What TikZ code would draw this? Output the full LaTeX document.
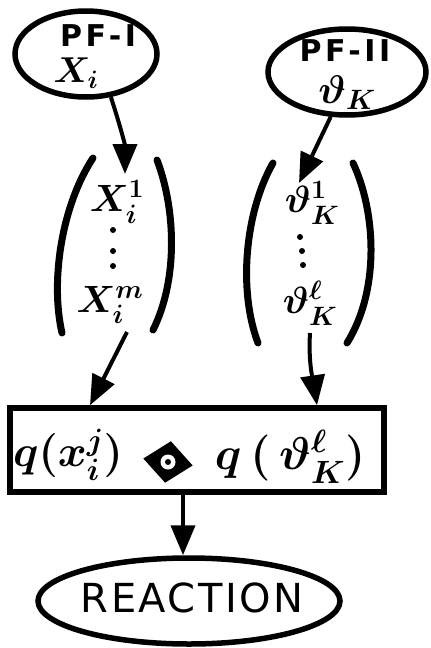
\RequirePackage{fix-cm}
\documentclass[tikz,border=0pt]{standalone}
\usepackage{graphicx}
\usepackage{fontspec}
\newfontfamily\handfont[LetterSpace=12]{DejaVu Sans}
\newfontfamily\handwide[LetterSpace=6]{DejaVu Sans}
\usetikzlibrary{shapes.geometric,arrows.meta}
\begin{document}
\begin{tikzpicture}[x=1pt,y=-1pt,
  oval/.style={ellipse,draw,line width=5.5pt,inner sep=0pt},
  arr/.style={line width=4pt,-{Triangle[length=30pt,width=24pt]}},
  paren/.style={line width=7pt,line cap=round},
  lbl/.style={inner sep=1pt},
  dotmark/.style={circle,fill,inner sep=0pt,minimum size=6pt},
  big/.style={font=\boldmath\fontsize{38}{42}\selectfont}]
\useasboundingbox (0,0) rectangle (431,648);
\fill[white] (0,0) rectangle (431,648);

% top ovals
\node[oval,minimum width=142pt,minimum height=86pt] (pf1) at (86,54) {};
\node[lbl,font=\handfont\bfseries\fontsize{30}{34}\selectfont] (pf1t) at (98,36) {PF-I};
\node[lbl,font=\boldmath\fontsize{36}{40}\selectfont] (xi) at (76,73) {$X_i$};

\node[oval,minimum width=158pt,minimum height=86pt] (pf2) at (347,72) {};
\node[lbl,font=\handfont\bfseries\fontsize{30}{34}\selectfont] (pf2t) at (345,51) {PF-II};
\node[lbl,font=\boldmath\fontsize{40}{44}\selectfont] (thk) at (347,93) {$\vartheta_K$};

% left column
\node[lbl,big] (x1) at (117,202) {$X_i^1$};
\node[dotmark] (ld1) at (113,230) {};
\node[dotmark] (ld2) at (113,251) {};
\node[dotmark] (ld3) at (113,266) {};
\node[lbl,big] (xm) at (110,305) {$X_i^m$};
\draw[paren] (93,158) .. controls (62,205) and (50,280) .. (62,333);
\draw[paren] (157,160) .. controls (176,210) and (178,280) .. (153,330);

% right column
\node[lbl,big] (r1) at (312,203) {$\vartheta_K^1$};
\node[dotmark] (rd1) at (300,237) {};
\node[dotmark] (rd2) at (302,251) {};
\node[dotmark] (rd3) at (303,265) {};
\node[lbl,big] (rl) at (310,303) {$\vartheta_K^\ell$};
\draw[paren] (273,163) .. controls (245,212) and (238,290) .. (258,343);
\draw[paren] (353,163) .. controls (376,212) and (380,290) .. (347,343);

% box
\node[draw,line width=5.5pt,minimum width=374pt,minimum height=84pt,inner sep=0pt] (box) at (197,450) {};
\node[lbl,font=\boldmath\fontsize{44}{48}\selectfont] (qx) at (68,455) {$q(x_i^j)$};
\node[diamond,fill,minimum width=50pt,minimum height=42pt,inner sep=0pt,rotate=-8] (dia) at (168,462) {};
\fill[white] (dia.center) circle (7.5pt);
\fill (dia.center) circle (3pt);
\node[lbl,font=\boldmath\fontsize{46}{50}\selectfont] (qt) at (290,457) {$q\,(\,\vartheta_K^\ell)$};

% reaction
\node[oval,minimum width=302pt,minimum height=86pt] (react) at (189,601) {};
\node[lbl,font=\handwide\fontsize{40}{44}\selectfont] (rt) at (192,598) {REACTION};

% connectors
\coordinate (t1) at (125,174);
\coordinate (t2) at (299,183);
\coordinate (lx) at (90,0);
\coordinate (rx) at (317,0);
\coordinate (bx) at (183,0);
\draw[arr] (pf1.300) .. controls (120,125) and (125,145) .. (t1);
\draw[arr] (pf2.250) -- (t2);
\draw[arr] (127,332) -- (box.north -| lx);
\draw[arr] (310,333) .. controls (308,365) and (314,385) .. (box.north -| rx);
\draw[arr] (box.south -| bx) -- (react.north -| bx);
\end{tikzpicture}
\end{document}
